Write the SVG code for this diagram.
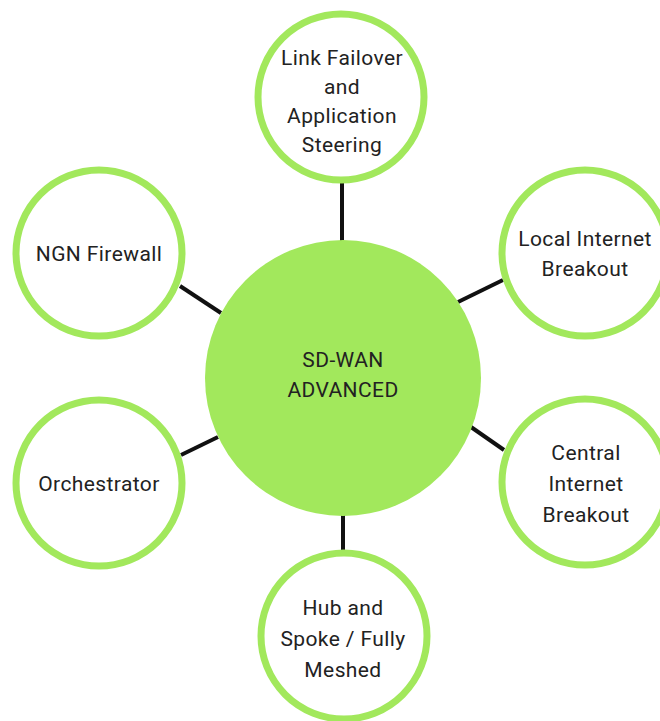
<svg xmlns="http://www.w3.org/2000/svg" width="660" height="721" viewBox="0 0 660 721">
  <style>
    .link { stroke: #111; stroke-width: 4; stroke-linecap: butt; }
    .sat { fill: #ffffff; stroke: #a2e85c; stroke-width: 7; }
    .hub { fill: #a2e85c; }
    .lbl { font-family: Roboto, "Liberation Sans", sans-serif; font-size: 21px; letter-spacing: 0.4px; fill: #222; text-anchor: middle; }
  </style>
  <rect width="660" height="721" fill="#ffffff"/>

  <!-- spokes from the hub to each feature -->
  <g id="connectors">
    <line class="link" x1="342" y1="183" x2="342" y2="242"/>
    <line class="link" x1="343" y1="515" x2="343" y2="553"/>
    <line class="link" x1="180" y1="286" x2="221" y2="313"/>
    <line class="link" x1="458" y1="302" x2="503" y2="280"/>
    <line class="link" x1="181" y1="455" x2="218" y2="437"/>
    <line class="link" x1="471" y1="427" x2="504" y2="450"/>
  </g>

  <g id="hub">
    <circle class="hub" cx="343" cy="378" r="138"/>
    <text class="lbl" x="343" y="367">SD-WAN</text>
    <text class="lbl" x="343" y="397">ADVANCED</text>
  </g>

  <g id="failover">
    <circle class="sat" cx="341" cy="97" r="83"/>
    <text class="lbl" x="342" y="65">Link Failover</text>
    <text class="lbl" x="342" y="94">and</text>
    <text class="lbl" x="342" y="123">Application</text>
    <text class="lbl" x="342" y="152">Steering</text>
  </g>

  <g id="firewall">
    <circle class="sat" cx="99" cy="253" r="83"/>
    <text class="lbl" x="99" y="261">NGN Firewall</text>
  </g>

  <g id="local-breakout">
    <circle class="sat" cx="585" cy="253" r="83"/>
    <text class="lbl" x="585" y="246">Local Internet</text>
    <text class="lbl" x="585" y="276">Breakout</text>
  </g>

  <g id="orchestrator">
    <circle class="sat" cx="99" cy="483" r="83"/>
    <text class="lbl" x="99" y="491">Orchestrator</text>
  </g>

  <g id="central-breakout">
    <circle class="sat" cx="585" cy="482" r="83"/>
    <text class="lbl" x="586" y="460">Central</text>
    <text class="lbl" x="586" y="491">Internet</text>
    <text class="lbl" x="586" y="522">Breakout</text>
  </g>

  <g id="topology">
    <circle class="sat" cx="344" cy="636" r="83"/>
    <text class="lbl" x="343" y="615">Hub and</text>
    <text class="lbl" x="343" y="646">Spoke / Fully</text>
    <text class="lbl" x="343" y="677">Meshed</text>
  </g>
</svg>
